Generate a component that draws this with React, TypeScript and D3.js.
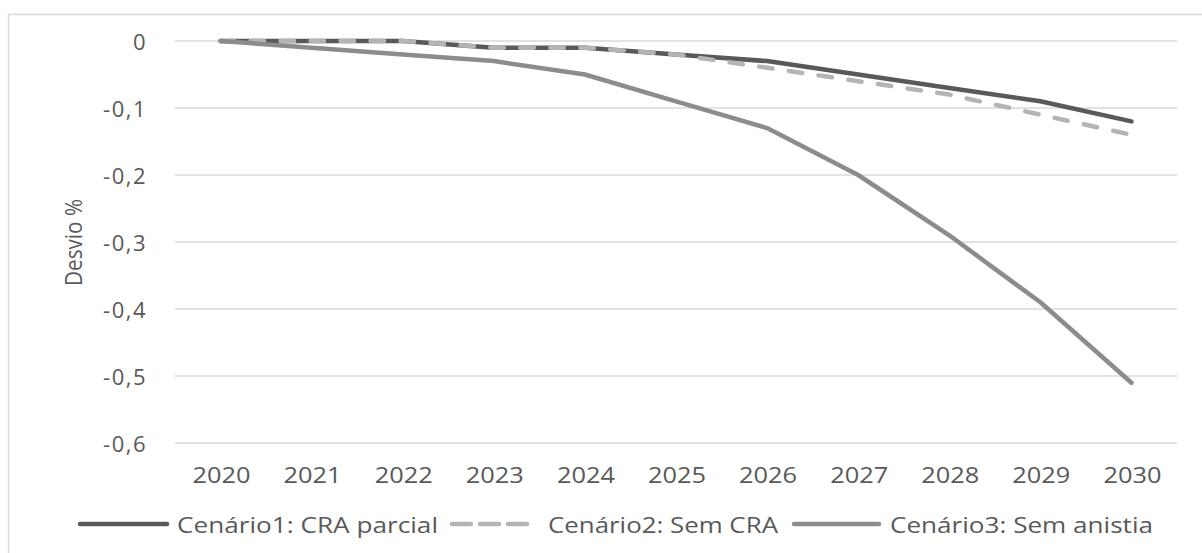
import React from "react";
import * as d3 from "d3";

const years = ["2020", "2021", "2022", "2023", "2024", "2025", "2026", "2027", "2028", "2029", "2030"];
const cenario1 = [0, 0, 0, -0.01, -0.01, -0.02, -0.03, -0.05, -0.07, -0.09, -0.12];
const cenario2 = [0, 0, 0, -0.01, -0.01, -0.02, -0.04, -0.06, -0.08, -0.11, -0.14];
const cenario3 = [0, -0.01, -0.02, -0.03, -0.05, -0.09, -0.13, -0.2, -0.29, -0.39, -0.51];
const yTicks = [0, -0.1, -0.2, -0.3, -0.4, -0.5, -0.6];
const seriesNames = ["Cenário1: CRA parcial", "Cenário2: Sem CRA", "Cenário3: Sem anistia"];
const yTitle = "Desvio %";

const W = 1202;
const H = 553;

export default function App() {
  const x = d3.scalePoint<string>().domain(years).range([175, 1177]).padding(0.5);
  const y = d3.scaleLinear().domain([-0.6, 0]).range([443, 41]);
  const locale = d3.formatLocale({ decimal: ",", thousands: ".", grouping: [3], currency: ["", ""] });
  const fmt = (v: number) => (v === 0 ? "0" : locale.format(".1f")(v).replace("−", "-"));

  const line = d3
    .line<number>()
    .x((_, i) => x(years[i]) as number)
    .y((d) => y(d));

  const series = [
    { name: seriesNames[0], data: cenario1, color: "#595959", dash: undefined as string | undefined },
    { name: seriesNames[1], data: cenario2, color: "#b4b4b4", dash: "13.5 16.5" },
    { name: seriesNames[2], data: cenario3, color: "#8c8c8c", dash: undefined as string | undefined },
  ];

  const legend = [
    { x1: 80, x2: 167, tx: 177, len: 261, dash: undefined as string | undefined },
    { x1: 452, x2: 527, tx: 548, len: 230, dash: "19 9" },
    { x1: 794, x2: 879, tx: 890, len: 263, dash: undefined as string | undefined },
  ];

  const textColor = "#595959";
  const font = "'Open Sans', sans-serif";

  return (
    <svg
      width={W}
      height={H}
      style={{ position: "absolute", left: 0, top: 0, background: "#fff" }}
      fontFamily={font}
    >
      <rect x={0} y={0} width={W} height={H} fill="#fff" />
      <rect x={8.5} y={14.5} width={1200} height={560} fill="none" stroke="#d9d9d9" strokeWidth={1.5} />
      {yTicks.map((t) => (
        <g key={t}>
          <line x1={175} x2={1177} y1={y(t)} y2={y(t)} stroke="#d9d9d9" strokeWidth={1.5} />
          <text
            x={147}
            y={y(t)}
            textAnchor="end"
            dominantBaseline="central"
            fontSize={22}
            letterSpacing={1.5}
            fill={textColor}
          >
            {fmt(t)}
          </text>
        </g>
      ))}
      {years.map((yr) => (
        <text
          key={yr}
          x={(x(yr) as number) + 1}
          y={474}
          textAnchor="middle"
          dominantBaseline="central"
          fontSize={22}
          textLength={58}
          lengthAdjust="spacingAndGlyphs"
          fill={textColor}
        >
          {yr}
        </text>
      ))}
      <text
        transform={`translate(73,243) scale(1.15,1) rotate(-90)`}
        x={-43}
        dominantBaseline="central"
        fontSize={20}
        textLength={87}
        lengthAdjust="spacingAndGlyphs"
        fill={textColor}
      >
        {yTitle}
      </text>
      {series.map((s) => (
        <path
          key={s.name}
          d={line(s.data) || ""}
          fill="none"
          stroke={s.color}
          strokeWidth={4.5}
          strokeLinecap="round"
          strokeLinejoin="round"
          strokeDasharray={s.dash}
        />
      ))}
      {series.map((s, i) => (
        <g key={"lg" + i}>
          <line
            x1={legend[i].x1}
            x2={legend[i].x2}
            y1={524}
            y2={524}
            stroke={s.color}
            strokeWidth={4.5}
            strokeLinecap="round"
            strokeDasharray={legend[i].dash}
          />
          <text
            x={legend[i].tx}
            y={524}
            dominantBaseline="central"
            fontSize={22}
            textLength={legend[i].len}
            lengthAdjust="spacingAndGlyphs"
            fill={textColor}
          >
            {s.name}
          </text>
        </g>
      ))}
    </svg>
  );
}
